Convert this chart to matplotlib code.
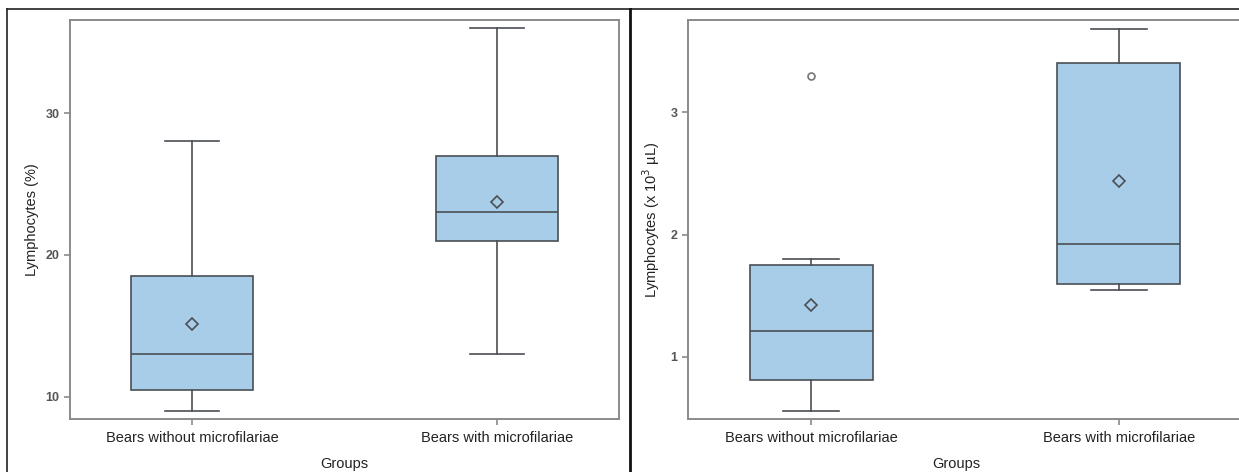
import matplotlib
matplotlib.use('Agg')
import matplotlib.pyplot as plt
from matplotlib.lines import Line2D

plt.rcParams['font.family'] = ['Liberation Sans', 'DejaVu Sans']

groups = ['Bears without microfilariae', 'Bears with microfilariae']

# Lymphocytes (%)
pct_whislo = [9.0, 13.0]
pct_q1 = [10.5, 21.0]
pct_med = [13.0, 23.0]
pct_q3 = [18.5, 27.0]
pct_whishi = [28.0, 36.0]
pct_mean = [15.15, 23.75]
pct_fliers = [[], []]

# Lymphocytes (x 10^3 uL)
abs_whislo = [0.56, 1.545]
abs_q1 = [0.81, 1.60]
abs_med = [1.21, 1.92]
abs_q3 = [1.75, 3.40]
abs_whishi = [1.80, 3.68]
abs_mean = [1.425, 2.44]
abs_fliers = [[3.30], []]

W, H = 1239, 472
BOX_FILL = '#a8cde9'
EDGE = '#4a4f55'
SPINE = '#8a8a8a'


def _stats(lo, q1, med, q3, hi, mean, fl):
    return [dict(whislo=lo[i], q1=q1[i], med=med[i], q3=q3[i], whishi=hi[i],
                 mean=mean[i], fliers=fl[i]) for i in range(len(lo))]


def _panel(ax, stats, ylabel, ylim, yticks, xlab_x, ylab_x):
    ax.bxp(stats, positions=[0, 1], widths=0.4, patch_artist=True,
           showmeans=True, showfliers=True,
           boxprops=dict(facecolor=BOX_FILL, edgecolor=EDGE, lw=1.2),
           medianprops=dict(color=EDGE, lw=1.2),
           whiskerprops=dict(color=EDGE, lw=1.2),
           capprops=dict(color=EDGE, lw=1.2),
           capwidths=0.18,
           meanprops=dict(marker='D', markerfacecolor='none', markeredgecolor=EDGE,
                          markersize=6, markeredgewidth=1.2),
           flierprops=dict(marker='o', markerfacecolor='none', markeredgecolor='#777777',
                           markersize=5, markeredgewidth=1.2))
    ax.set_xlim(-0.4, 1.4)
    ax.set_ylim(*ylim)
    ax.set_yticks(yticks)
    ax.set_xticks([0, 1])
    ax.set_xticklabels(groups, fontsize=10.5, color='#222222')
    ax.set_ylabel(ylabel, fontsize=10.5, color='#222222')
    ax.set_xlabel('Groups', fontsize=10.5, color='#222222')
    ax.xaxis.set_label_coords(xlab_x, -0.095)
    ax.yaxis.set_label_coords(ylab_x, 0.5)
    ax.tick_params(axis='y', labelsize=9, labelcolor='#555555', color=SPINE,
                   length=4, width=1.2)
    ax.tick_params(axis='x', color=SPINE, length=4, width=1.2, pad=5)
    for lab in ax.get_yticklabels():
        lab.set_fontweight('bold')
    for sp in ax.spines.values():
        sp.set_color(SPINE)
        sp.set_linewidth(1.4)


fig = plt.figure(figsize=(W / 100, H / 100), dpi=100)

ax1 = fig.add_axes([70 / W, 1 - 419 / H, (619 - 70) / W, (419 - 20) / H])
_panel(ax1, _stats(pct_whislo, pct_q1, pct_med, pct_q3, pct_whishi, pct_mean, pct_fliers),
       'Lymphocytes (%)', (8.45, 36.55), [10, 20, 30], 0.5, -0.056)

ax2 = fig.add_axes([688 / W, 1 - 419 / H, (1242 - 688) / W, (419 - 20) / H])
_panel(ax2, _stats(abs_whislo, abs_q1, abs_med, abs_q3, abs_whishi, abs_mean, abs_fliers),
       'Lymphocytes (x 10$^3$ µL)', (0.493, 3.755), [1, 2, 3], 0.484, -0.047)

# outer frame lines of the composite figure
fig.add_artist(Line2D([7 / W, 1], [1 - 9 / H, 1 - 9 / H], color='#222222', lw=1.2))
fig.add_artist(Line2D([7 / W, 7 / W], [0, 1 - 9 / H], color='#222222', lw=1.2))
fig.add_artist(Line2D([630 / W, 630 / W], [0, 1 - 9 / H], color='#111111', lw=2))

fig.savefig('out.png', dpi=100, facecolor='white')
